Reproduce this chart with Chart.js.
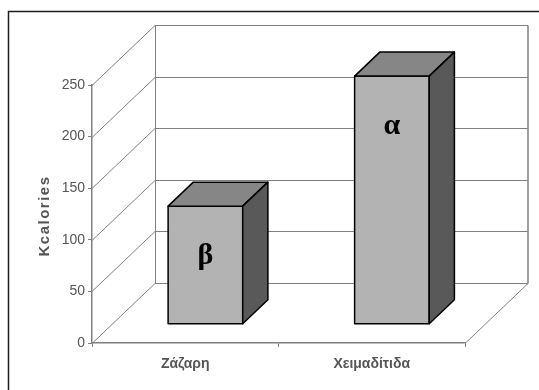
<!DOCTYPE html>
<html>
<head>
<meta charset="utf-8">
<script src="https://cdn.jsdelivr.net/npm/chart.js@4/dist/chart.umd.min.js"></script>
<style>
  html, body { margin: 0; padding: 0; background: #fff; }
  canvas { display: block; }
</style>
</head>
<body>
<canvas id="c" width="539" height="390"></canvas>
<script>
// ---- data ------------------------------------------------------------------
const CATEGORIES = ['Ζάζαρη', 'Χειμαδίτιδα'];
const KCAL       = [114, 240];
const BAR_TAGS   = ['β', 'α'];
const Y_TITLE    = 'Kcalories';
const Y_MAX      = 250;
const Y_STEP     = 50;

// ---- look ------------------------------------------------------------------
const SANS   = '"Liberation Sans", Arial, sans-serif';
const SERIF  = '"Liberation Serif", "Times New Roman", serif';
const GRID   = 'rgb(128,128,128)';
const TEXT   = 'rgb(85,85,85)';
const DEPTH_X = 63, DEPTH_Y = 60;    // back wall offset
const BAR_Z0 = 0.32, BAR_Z1 = 0.72;  // bar depth as fraction of floor depth
const FACE = { front: 'rgb(179,179,179)', top: 'rgb(134,134,134)', side: 'rgb(89,89,89)' };

function line(ctx, x0, y0, x1, y1) {
  ctx.beginPath();
  ctx.moveTo(x0, y0);
  ctx.lineTo(x1, y1);
  ctx.stroke();
}

function poly(ctx, pts, fill) {
  ctx.beginPath();
  ctx.moveTo(pts[0][0], pts[0][1]);
  for (let i = 1; i < pts.length; i++) ctx.lineTo(pts[i][0], pts[i][1]);
  ctx.closePath();
  ctx.fillStyle = fill;
  ctx.fill();
  ctx.stroke();
}

// frame + 3D walls drawn behind the bars
const wallsPlugin = {
  id: 'walls',
  beforeDraw(chart) {
    const ctx = chart.ctx;
    ctx.save();
    ctx.fillStyle = '#fff';
    ctx.fillRect(0, 0, chart.width, chart.height);
    ctx.strokeStyle = 'rgb(30,30,30)';
    ctx.lineWidth = 1.5;
    ctx.beginPath();
    ctx.moveTo(8.5, chart.height);
    ctx.lineTo(8.5, 11.5);
    ctx.lineTo(chart.width, 11.5);
    ctx.stroke();
    ctx.restore();
  },
  beforeDatasetsDraw(chart) {
    const { ctx, chartArea: a, scales: { y } } = chart;
    ctx.save();
    ctx.strokeStyle = GRID;
    ctx.lineWidth = 1;
    const bx0 = a.left + DEPTH_X, bx1 = a.right + DEPTH_X;
    for (const t of y.ticks) {
      const py = Math.round(y.getPixelForValue(t.value)) + 0.5;
      line(ctx, a.left, py, bx0, py - DEPTH_Y);          // left wall
      line(ctx, bx0, py - DEPTH_Y, bx1, py - DEPTH_Y);    // back wall
    }
    const top = Math.round(y.getPixelForValue(Y_MAX)) + 0.5 - DEPTH_Y;
    const bot = Math.round(y.getPixelForValue(0)) + 0.5 - DEPTH_Y;
    line(ctx, bx0 + 0.5, top, bx0 + 0.5, bot);
    ctx.lineWidth = 1.5;
    line(ctx, bx1, top, bx1, bot);
    ctx.lineWidth = 1;
    line(ctx, a.right, bot + DEPTH_Y, bx1, bot);          // floor right edge
    ctx.restore();
  },
  afterDatasetsDraw(chart) {
    const { ctx, scales: { y } } = chart;
    const meta = chart.getDatasetMeta(0);
    const ox = DEPTH_X * BAR_Z0, oy = DEPTH_Y * BAR_Z0;
    const dx = DEPTH_X * (BAR_Z1 - BAR_Z0), dy = DEPTH_Y * (BAR_Z1 - BAR_Z0);
    ctx.save();
    ctx.strokeStyle = '#000';
    ctx.lineWidth = 1.5;
    ctx.lineJoin = 'round';
    meta.data.forEach((el, i) => {
      const x0 = el.x - el.width / 2 + ox, x1 = el.x + el.width / 2 + ox;
      const yt = y.getPixelForValue(KCAL[i]) - oy;
      const yb = y.getPixelForValue(0) - oy;
      poly(ctx, [[x0, yb], [x0, yt], [x1, yt], [x1, yb]], FACE.front);
      poly(ctx, [[x0, yt], [x0 + dx, yt - dy], [x1 + dx, yt - dy], [x1, yt]], FACE.top);
      poly(ctx, [[x1, yt], [x1 + dx, yt - dy], [x1 + dx, yb - dy], [x1, yb]], FACE.side);
      ctx.fillStyle = '#000';
      ctx.font = 'bold 30px ' + SERIF;
      ctx.textAlign = 'center';
      ctx.textBaseline = 'middle';
      ctx.fillText(BAR_TAGS[i], (x0 + x1) / 2, yt + 50);
    });
    ctx.restore();
  },
  afterDraw(chart) {
    const ctx = chart.ctx;
    ctx.save();
    ctx.translate(45, 217);
    ctx.rotate(-Math.PI / 2);
    ctx.font = 'bold 15px ' + SANS;
    ctx.letterSpacing = '1.5px';
    ctx.fillStyle = TEXT;
    ctx.textAlign = 'center';
    ctx.textBaseline = 'middle';
    ctx.fillText(Y_TITLE, 1, 0);
    ctx.restore();
  },
};

new Chart(document.getElementById('c'), {
  type: 'bar',
  data: {
    labels: CATEGORIES,
    datasets: [{
      data: KCAL,
      backgroundColor: 'transparent',
      borderWidth: 0,
      barPercentage: 0.8,
      categoryPercentage: 0.5,
    }],
  },
  options: {
    responsive: false,
    animation: false,
    devicePixelRatio: 1,
    layout: { padding: { top: 85, right: 74, left: 0, bottom: 0 } },
    plugins: { legend: { display: false }, tooltip: { enabled: false } },
    scales: {
      x: {
        grid: { offset: true, drawOnChartArea: false, tickLength: 4, color: GRID },
        border: { display: true, color: GRID, width: 1.5 },
        ticks: { color: TEXT, padding: 9, font: { family: SANS, size: 14, weight: 'bold' } },
        afterFit(s) { s.height = 47; },
      },
      y: {
        min: 0, max: Y_MAX,
        grid: { drawOnChartArea: false, tickLength: 4, color: GRID },
        border: { display: true, color: GRID, width: 1.5 },
        ticks: { stepSize: Y_STEP, color: TEXT, padding: 3, font: { family: SANS, size: 14 } },
        afterFit(s) { s.width = 92; },
      },
    },
  },
  plugins: [wallsPlugin],
});
</script>
</body>
</html>
